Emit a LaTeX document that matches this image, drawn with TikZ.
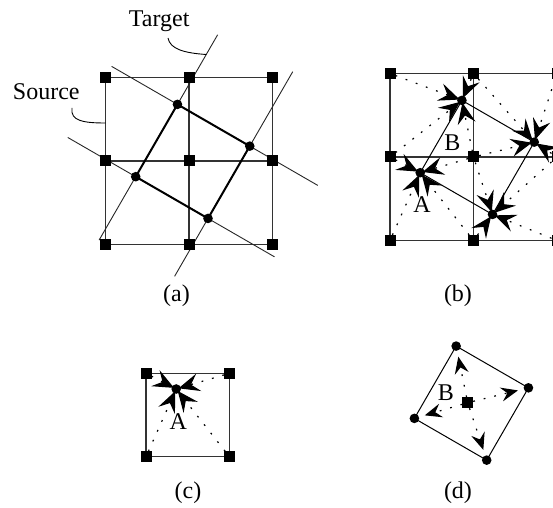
\documentclass[tikz,border=0pt]{standalone}
\usepackage{fontspec}
\setmainfont{Liberation Serif}
\usetikzlibrary{arrows.meta,calc}
\begin{document}
\begin{tikzpicture}[x=0.5pt,y=-0.5pt,
  src/.style={rectangle,fill=black,draw=none,minimum size=5.5pt,inner sep=0pt,outer sep=0pt},
  tgt/.style={circle,fill=black,draw=none,minimum size=4.8pt,inner sep=0pt,outer sep=0pt},
  gridline/.style={line width=0.6pt,draw=black!80},
  extline/.style={line width=0.45pt,draw=black!85},
  boldside/.style={line width=1pt,draw=black},
  thinside/.style={line width=0.5pt,draw=black},
  weight/.style={dash pattern=on 0.9pt off 4.5pt,line width=0.6pt,
    -{Stealth[length=10.5pt,width=9pt,inset=4pt]},shorten >=-1.2pt},
  outw/.style={dash pattern=on 0.9pt off 4.5pt,line width=0.6pt,
    -{Stealth[length=8.5pt,width=7pt,inset=3pt]},shorten >=3pt},
  lab/.style={font=\fontsize{12pt}{14pt}\selectfont,inner sep=0pt},
  callout/.style={line width=0.45pt,draw=black},
]
\useasboundingbox (0,0) rectangle (553,508);
\clip (0,0) rectangle (553,508);

% ---------------- (a) ----------------
\begin{scope}[shift={(105.5,77.5)}]
  \foreach \i in {0,1,2}{\foreach \j in {0,1,2}{\coordinate (a-\i\j) at (\i*83.5,\j*83.5);}}
  \foreach \k in {0,1,2}{
    \draw[gridline] (a-0\k) -- (a-2\k);
    \draw[gridline] (a-\k0) -- (a-\k2);
  }
  \coordinate (a-A) at (30.2,99.2);
  \coordinate (a-B) at (71.95,26.89);
  \coordinate (a-D) at (102.51,140.95);
  \coordinate (a-R) at (144.26,68.64);
  \coordinate (a-e1) at ($(a-B)!-0.963!(a-A)$);
  \coordinate (a-e2) at ($(a-A)!-0.877!(a-B)$);
  \coordinate (a-e3) at ($(a-R)!-1.03!(a-D)$);
  \coordinate (a-e4) at ($(a-D)!-0.80!(a-R)$);
  \coordinate (a-e5) at ($(a-B)!-0.91!(a-R)$);
  \coordinate (a-e6) at ($(a-R)!-0.94!(a-B)$);
  \coordinate (a-e7) at ($(a-A)!-0.94!(a-D)$);
  \coordinate (a-e8) at ($(a-D)!-0.92!(a-A)$);
  \draw[extline] (a-e1) -- (a-e2);
  \draw[extline] (a-e3) -- (a-e4);
  \draw[extline] (a-e5) -- (a-e6);
  \draw[extline] (a-e7) -- (a-e8);
  \draw[boldside] (a-A) -- (a-B) -- (a-R) -- (a-D) -- cycle;
  \foreach \i in {0,1,2}{\foreach \j in {0,1,2}{\node[src] (a-s\i\j) at (a-\i\j) {};}}
  \foreach \p in {A,B,D,R}{\node[tgt] (a-c\p) at (a-\p) {};}
  \coordinate (tgtend) at ($(a-B)!-0.69!(a-A)$);
\end{scope}
\node[lab,anchor=base] (srclab) at (46.3,100) {Source};
\node[lab,anchor=base] (tgtlab) at (159.2,26.7) {Target};
\coordinate (srcfoot) at (72,108);
\coordinate (srcend) at (105.5,123);
\coordinate (tgtfoot) at (168,38);
\draw[callout] (srcfoot) .. controls (70,121) and (84,123) .. (srcend);
\draw[callout] (tgtfoot) .. controls (170,49) and (184,53) .. (tgtend);
\node[lab] (capa) at (176.5,296) {(a)};

% ---------------- (b) ----------------
\begin{scope}[shift={(390,73.5)}]
  \foreach \i in {0,1,2}{\foreach \j in {0,1,2}{\coordinate (b-\i\j) at (\i*83.5,\j*83.5);}}
  \foreach \k in {0,1,2}{
    \draw[gridline] (b-0\k) -- (b-2\k);
    \draw[gridline] (b-\k0) -- (b-\k2);
  }
  \coordinate (b-A) at (30.2,99.2);
  \coordinate (b-B) at (71.95,26.89);
  \coordinate (b-D) at (102.51,140.95);
  \coordinate (b-R) at (144.26,68.64);
  \draw[thinside] (b-A) -- (b-B) -- (b-R) -- (b-D) -- cycle;
  \foreach \i in {0,1,2}{\foreach \j in {0,1,2}{\node[src] (b-s\i\j) at (b-\i\j) {};}}
  \foreach \p in {A,B,D,R}{\node[tgt] (b-c\p) at (b-\p) {};}
  \foreach \s in {01,11,02,12}{\draw[weight] (b-s\s) -- (b-cA);}
  \foreach \s in {00,10,01,11}{\draw[weight] (b-s\s) -- (b-cB);}
  \foreach \s in {10,20,11,21}{\draw[weight] (b-s\s) -- (b-cR);}
  \foreach \s in {11,21,12,22}{\draw[weight] (b-s\s) -- (b-cD);}
\end{scope}
\node[lab] (blabB) at (452.5,142.5) {B};
\node[lab] (blabA) at (422,205) {A};
\node[lab] (capb) at (458,296) {(b)};

% ---------------- (c) ----------------
\begin{scope}[shift={(146,289.8)}]
  \coordinate (c-01) at (0,83.5);
  \coordinate (c-11) at (83.5,83.5);
  \coordinate (c-02) at (0,167);
  \coordinate (c-12) at (83.5,167);
  \draw[gridline] (c-01) -- (c-11) -- (c-12) -- (c-02) -- cycle;
  \foreach \s in {01,11,02,12}{\node[src] (c-s\s) at (c-\s) {};}
  \node[tgt] (c-cA) at (30.2,99.2) {};
  \foreach \s in {01,11,02,12}{\draw[weight] (c-s\s) -- (c-cA);}
\end{scope}
\node[lab] (clabA) at (178.3,421.7) {A};
\node[lab] (capc) at (188,493) {(c)};

% ---------------- (d) ----------------
\begin{scope}[shift={(384.2,319.2)}]
  \coordinate (d-A) at (30.2,99.2);
  \coordinate (d-B) at (71.95,26.89);
  \coordinate (d-D) at (102.51,140.95);
  \coordinate (d-R) at (144.26,68.64);
  \draw[thinside] (d-A) -- (d-B) -- (d-R) -- (d-D) -- cycle;
  \node[src] (d-S) at (83.5,83.5) {};
  \foreach \p in {A,B,D,R}{\node[tgt] (d-c\p) at (d-\p) {};}
  \foreach \p in {A,B,D,R}{\draw[outw] (d-S) -- (d-c\p);}
\end{scope}
\node[lab] (dlabB) at (445.8,392.8) {B};
\node[lab] (capd) at (458,493) {(d)};
\end{tikzpicture}
\end{document}
